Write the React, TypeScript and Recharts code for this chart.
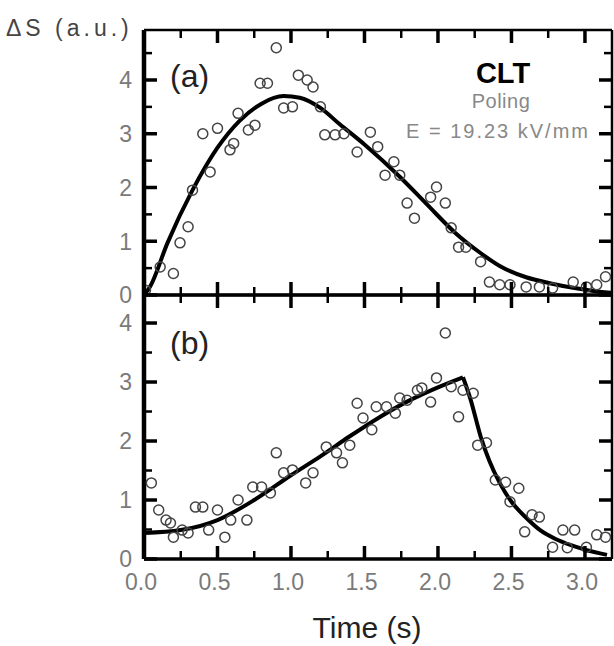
import React from 'react';
import { ComposedChart, Scatter, Line, XAxis, YAxis } from 'recharts';

// ---------- data ----------
const xMajor = [0, 0.5, 1, 1.5, 2, 2.5, 3];
const xMinor = [0.25, 0.75, 1.25, 1.75, 2.25, 2.75];
const xLabels = ['0.0', '0.5', '1.0', '1.5', '2.0', '2.5', '3.0'];

const yMajor = [0, 1, 2, 3, 4];
const yMinorA = [0.5, 1.5, 2.5, 3.5, 4.5];
const yMinorB = [0.5, 1.5, 2.5, 3.5];
const yLabels = ['0', '1', '2', '3', '4'];

// panel (a): measured points
const pointsA = [
  { t: 0.01, s: 0.09 }, { t: 0.11, s: 0.52 }, { t: 0.2, s: 0.4 }, { t: 0.245, s: 0.97 },
  { t: 0.3, s: 1.27 }, { t: 0.33, s: 1.95 }, { t: 0.4, s: 3.0 }, { t: 0.45, s: 2.29 },
  { t: 0.5, s: 3.1 }, { t: 0.585, s: 2.7 }, { t: 0.61, s: 2.82 }, { t: 0.64, s: 3.38 },
  { t: 0.71, s: 3.07 }, { t: 0.755, s: 3.16 }, { t: 0.79, s: 3.94 }, { t: 0.84, s: 3.94 },
  { t: 0.9, s: 4.6 }, { t: 0.95, s: 3.48 }, { t: 1.01, s: 3.5 }, { t: 1.05, s: 4.09 },
  { t: 1.11, s: 4.0 }, { t: 1.15, s: 3.87 }, { t: 1.2, s: 3.5 }, { t: 1.23, s: 2.98 },
  { t: 1.3, s: 2.98 }, { t: 1.36, s: 3.0 }, { t: 1.45, s: 2.66 }, { t: 1.54, s: 3.03 },
  { t: 1.59, s: 2.76 }, { t: 1.64, s: 2.23 }, { t: 1.7, s: 2.48 }, { t: 1.74, s: 2.23 },
  { t: 1.79, s: 1.71 }, { t: 1.84, s: 1.43 }, { t: 1.95, s: 1.82 }, { t: 1.99, s: 2.01 },
  { t: 2.05, s: 1.71 }, { t: 2.09, s: 1.25 }, { t: 2.14, s: 0.89 }, { t: 2.19, s: 0.89 },
  { t: 2.29, s: 0.62 }, { t: 2.35, s: 0.24 }, { t: 2.42, s: 0.19 }, { t: 2.49, s: 0.19 },
  { t: 2.6, s: 0.15 }, { t: 2.69, s: 0.15 }, { t: 2.78, s: 0.13 }, { t: 2.92, s: 0.24 },
  { t: 3.01, s: 0.15 }, { t: 3.08, s: 0.19 }, { t: 3.14, s: 0.34 },
];

// panel (a): fitted curve
const fitA = [
  { t: 0, s: 0 }, { t: 0.04, s: 0.15 }, { t: 0.16, s: 0.97 }, { t: 0.33, s: 1.95 },
  { t: 0.5, s: 2.74 }, { t: 0.65, s: 3.24 }, { t: 0.8, s: 3.56 }, { t: 0.95, s: 3.7 },
  { t: 1.06, s: 3.67 }, { t: 1.2, s: 3.48 }, { t: 1.33, s: 3.18 }, { t: 1.5, s: 2.8 },
  { t: 1.74, s: 2.2 }, { t: 1.92, s: 1.7 }, { t: 2.12, s: 1.15 }, { t: 2.28, s: 0.8 },
  { t: 2.42, s: 0.54 }, { t: 2.6, s: 0.33 }, { t: 2.76, s: 0.22 }, { t: 2.95, s: 0.12 },
  { t: 3.1, s: 0.06 }, { t: 3.18, s: 0.04 },
];

// panel (b): measured points
const pointsB = [
  { t: 0.05, s: 1.29 }, { t: 0.1, s: 0.83 }, { t: 0.15, s: 0.66 }, { t: 0.18, s: 0.61 },
  { t: 0.2, s: 0.37 }, { t: 0.26, s: 0.49 }, { t: 0.3, s: 0.44 }, { t: 0.35, s: 0.88 },
  { t: 0.4, s: 0.88 }, { t: 0.44, s: 0.49 }, { t: 0.5, s: 0.83 }, { t: 0.55, s: 0.37 },
  { t: 0.59, s: 0.66 }, { t: 0.64, s: 1.0 }, { t: 0.7, s: 0.66 }, { t: 0.74, s: 1.22 },
  { t: 0.8, s: 1.22 }, { t: 0.86, s: 1.12 }, { t: 0.9, s: 1.8 }, { t: 0.95, s: 1.46 },
  { t: 1.01, s: 1.51 }, { t: 1.1, s: 1.29 }, { t: 1.15, s: 1.46 }, { t: 1.24, s: 1.9 },
  { t: 1.31, s: 1.8 }, { t: 1.35, s: 1.63 }, { t: 1.4, s: 1.93 }, { t: 1.45, s: 2.64 },
  { t: 1.49, s: 2.39 }, { t: 1.55, s: 2.19 }, { t: 1.58, s: 2.58 }, { t: 1.65, s: 2.58 },
  { t: 1.71, s: 2.47 }, { t: 1.74, s: 2.73 }, { t: 1.79, s: 2.69 }, { t: 1.86, s: 2.86 },
  { t: 1.89, s: 2.9 }, { t: 1.95, s: 2.66 }, { t: 1.99, s: 3.07 }, { t: 2.05, s: 3.83 },
  { t: 2.09, s: 2.92 }, { t: 2.14, s: 2.41 }, { t: 2.17, s: 2.86 }, { t: 2.24, s: 2.81 },
  { t: 2.27, s: 1.93 }, { t: 2.33, s: 1.97 }, { t: 2.39, s: 1.34 }, { t: 2.46, s: 1.3 },
  { t: 2.49, s: 0.97 }, { t: 2.55, s: 1.2 }, { t: 2.59, s: 0.46 }, { t: 2.64, s: 0.75 },
  { t: 2.69, s: 0.71 }, { t: 2.78, s: 0.2 }, { t: 2.85, s: 0.49 }, { t: 2.88, s: 0.19 },
  { t: 2.93, s: 0.49 }, { t: 3.01, s: 0.2 }, { t: 3.08, s: 0.41 }, { t: 3.14, s: 0.37 },
];

// panel (b): fitted curve, rise and decay
const fitBRise = [
  { t: 0, s: 0.44 }, { t: 0.25, s: 0.49 }, { t: 0.5, s: 0.66 }, { t: 0.75, s: 1.0 },
  { t: 1.0, s: 1.42 }, { t: 1.2, s: 1.74 }, { t: 1.4, s: 2.08 }, { t: 1.6, s: 2.4 },
  { t: 1.8, s: 2.68 }, { t: 2.0, s: 2.91 }, { t: 2.17, s: 3.08 },
];
const fitBDecay = [
  { t: 2.17, s: 3.08 }, { t: 2.22, s: 2.72 }, { t: 2.29, s: 2.08 }, { t: 2.35, s: 1.66 },
  { t: 2.42, s: 1.29 }, { t: 2.5, s: 0.97 }, { t: 2.6, s: 0.7 }, { t: 2.7, s: 0.48 },
  { t: 2.8, s: 0.34 }, { t: 2.9, s: 0.24 }, { t: 3.0, s: 0.16 }, { t: 3.15, s: 0.07 },
];

// ---------- layout & styling ----------
const W = 614;
const H = 646;
const FONT = '"Liberation Sans", Arial, sans-serif';
const PLOT_LEFT = 144;
const PLOT_RIGHT = 612;
const X_DOMAIN: [number, number] = [0, 3.184];
const PANEL_A = { top: 30, bottom: 295, domain: [0, 4.93] as [number, number] };
const PANEL_B = { top: 295, bottom: 559, domain: [0, 4.475] as [number, number] };
const MAJOR = 13;
const MINOR = 8;
const MAJOR_W = 3.5;
const MINOR_W = 2.5;

const xLabelMap: Record<string, string> = {};
xMajor.forEach((v, i) => { xLabelMap[String(v)] = xLabels[i]; });
const yLabelMap: Record<string, string> = {};
yMajor.forEach((v, i) => { yLabelMap[String(v)] = yLabels[i]; });

const noTick = () => <g />;

const LeftLabel = (props: any) => {
  const label = yLabelMap[String(props.payload.value)];
  return (
    <text x={props.x - 12} y={props.y} dy="0.36em" textAnchor="end" fontSize={23} fill="#7a7a7a" fontFamily={FONT}>
      {label}
    </text>
  );
};
const BottomLabel = (props: any) => {
  const label = xLabelMap[String(props.payload.value)];
  return (
    <text x={props.x - 3} y={props.y + 31} textAnchor="middle" fontSize={23} fill="#7a7a7a" fontFamily={FONT}>
      {label}
    </text>
  );
};

const OpenCircle = (props: any) => {
  const { cx, cy } = props;
  if (cx == null || cy == null) return <g />;
  return <circle cx={cx} cy={cy} r={5} fill="none" stroke="#444" strokeWidth={1.5} />;
};

interface PanelProps {
  top: number;
  bottom: number;
  yDomain: [number, number];
  points: { t: number; s: number }[];
  fits: { t: number; s: number }[][];
  showXLabels: boolean;
}

const Panel = ({ top, bottom, yDomain, points, fits, showXLabels }: PanelProps) => (
  <div style={{ position: 'absolute', left: 0, top: 0, width: W, height: H }}>
    <ComposedChart
      width={W}
      height={H}
      margin={{ top: top - 2, bottom: H - bottom - 2, left: PLOT_LEFT - 40, right: W - PLOT_RIGHT - 2 }}
    >
      <XAxis
        xAxisId="b"
        type="number"
        dataKey="t"
        orientation="bottom"
        domain={X_DOMAIN}
        allowDataOverflow
        ticks={xMajor}
        interval={0}
        height={2}
        tickSize={0}
        tickMargin={0}
        axisLine={{ stroke: '#000', strokeWidth: 3.5 }}
        tickLine={false}
        tick={showXLabels ? <BottomLabel /> : noTick}
      />
      <XAxis
        xAxisId="t"
        type="number"
        orientation="top"
        domain={X_DOMAIN}
        allowDataOverflow
        ticks={xMajor}
        interval={0}
        height={2}
        tickSize={0}
        axisLine={{ stroke: '#000', strokeWidth: 2.5 }}
        tickLine={false}
        tick={noTick}
      />
      <YAxis
        yAxisId="l"
        type="number"
        dataKey="s"
        orientation="left"
        domain={yDomain}
        allowDataOverflow
        ticks={yMajor}
        interval={0}
        width={40}
        tickSize={0}
        tickMargin={0}
        axisLine={{ stroke: '#000', strokeWidth: 4.5 }}
        tickLine={false}
        tick={<LeftLabel />}
      />
      <YAxis
        yAxisId="r"
        type="number"
        orientation="right"
        domain={yDomain}
        allowDataOverflow
        ticks={yMajor}
        interval={0}
        width={2}
        tickSize={0}
        axisLine={{ stroke: '#000', strokeWidth: 2.5 }}
        tickLine={false}
        tick={noTick}
      />
      <Scatter
        xAxisId="b"
        yAxisId="l"
        data={points}
        dataKey="s"
        shape={<OpenCircle />}
        isAnimationActive={false}
      />
      {fits.map((f, i) => (
        <Line
          key={`fit-${i}`}
          xAxisId="b"
          yAxisId="l"
          data={f}
          dataKey="s"
          type="monotone"
          stroke="#000"
          strokeWidth={4}
          dot={false}
          activeDot={false}
          isAnimationActive={false}
        />
      ))}
    </ComposedChart>
  </div>
);

// inward tick marks of the frame (same linear mapping as the axes above)
const xPix = (t: number) =>
  PLOT_LEFT + ((t - X_DOMAIN[0]) / (X_DOMAIN[1] - X_DOMAIN[0])) * (PLOT_RIGHT - PLOT_LEFT);
const yPix = (s: number, p: { top: number; bottom: number; domain: [number, number] }) =>
  p.bottom - ((s - p.domain[0]) / (p.domain[1] - p.domain[0])) * (p.bottom - p.top);

const FrameTicks = ({ p, yMinor }: { p: typeof PANEL_A; yMinor: number[] }) => {
  const els: React.ReactNode[] = [];
  const addX = (vals: number[], len: number, sw: number) => {
    vals.forEach((t) => {
      const x = xPix(t);
      els.push(<line key={`b${t}`} x1={x} x2={x} y1={p.bottom} y2={p.bottom - len} stroke="#000" strokeWidth={sw} />);
      els.push(<line key={`t${t}`} x1={x} x2={x} y1={p.top} y2={p.top + len} stroke="#000" strokeWidth={sw} />);
    });
  };
  const addY = (vals: number[], len: number, sw: number) => {
    vals.forEach((s) => {
      const y = yPix(s, p);
      els.push(<line key={`l${s}`} x1={PLOT_LEFT} x2={PLOT_LEFT + len} y1={y} y2={y} stroke="#000" strokeWidth={sw} />);
      els.push(<line key={`r${s}`} x1={PLOT_RIGHT} x2={PLOT_RIGHT - len} y1={y} y2={y} stroke="#000" strokeWidth={sw} />);
    });
  };
  addX(xMajor, MAJOR, MAJOR_W);
  addX(xMinor, MINOR, MINOR_W);
  addY(yMajor, MAJOR, MAJOR_W);
  addY(yMinor, MINOR, MINOR_W);
  return <g>{els}</g>;
};

export default function App() {
  return (
    <div
      style={{
        position: 'absolute',
        left: 0,
        top: 0,
        width: W,
        height: H,
        background: '#fff',
        overflow: 'hidden',
        fontFamily: FONT,
      }}
    >
      <Panel top={PANEL_A.top} bottom={PANEL_A.bottom} yDomain={PANEL_A.domain} points={pointsA} fits={[fitA]} showXLabels={false} />
      <Panel top={PANEL_B.top} bottom={PANEL_B.bottom} yDomain={PANEL_B.domain} points={pointsB} fits={[fitBRise, fitBDecay]} showXLabels />
      <svg width={W} height={H} style={{ position: 'absolute', left: 0, top: 0, pointerEvents: 'none' }}>
        <FrameTicks p={PANEL_A} yMinor={yMinorA} />
        <FrameTicks p={PANEL_B} yMinor={yMinorB} />
        <text x={6} y={36} fontSize={23} letterSpacing={4} fill="#444" fontFamily={FONT}>ΔS (a.u.)</text>
        <text x={170} y={87} fontSize={32} fill="#222" fontFamily={FONT}>(a)</text>
        <text x={170} y={354} fontSize={32} fill="#222" fontFamily={FONT}>(b)</text>
        <text x={503} y={83} fontSize={29} fontWeight="bold" textAnchor="middle" fill="#000" fontFamily={FONT}>CLT</text>
        <text x={501} y={108} fontSize={20} textAnchor="middle" letterSpacing={0.5} fill="#888" fontFamily={FONT}>Poling</text>
        <text x={498} y={138} fontSize={20} textAnchor="middle" letterSpacing={2} fill="#888" fontFamily={FONT}>E = 19.23 kV/mm</text>
        <text x={367} y={638} fontSize={30} textAnchor="middle" fill="#222" fontFamily={FONT}>Time (s)</text>
      </svg>
    </div>
  );
}
